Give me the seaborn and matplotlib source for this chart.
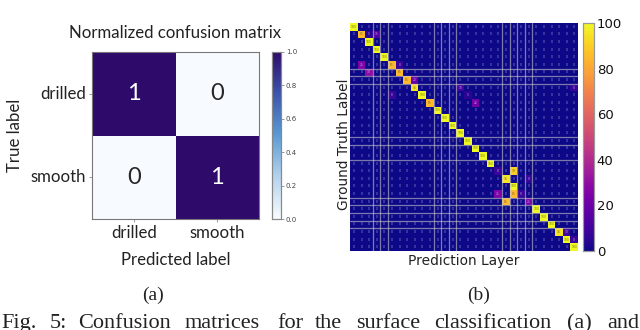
import numpy as np
import matplotlib
matplotlib.use("Agg")
import matplotlib.pyplot as plt
from matplotlib.colors import LinearSegmentedColormap
import seaborn as sns

W, H = 640, 330

# panel (a)
surface_labels = ["drilled", "smooth"]
surface_matrix = [[1, 0], [0, 1]]
surface_ticks = [0.0, 0.2, 0.4, 0.6, 0.8, 1.0]

# panel (b): 30 layers, diagonal and the visible off-diagonal cells
diag_values = [100, 85, 100, 100, 100, 85, 85, 85, 95, 100,
               85, 100, 100, 100, 100, 100, 100, 100, 100, 8,
               95, 100, 8, 25, 100, 100, 100, 95, 100, 100]
off_rows = [1, 1, 5, 5, 6, 7, 8, 8, 9, 9, 10, 19, 20, 22, 22, 23, 27, 28]
off_cols = [3, 2, 1, 6, 2, 8, 14, 29, 5, 15, 16, 21, 23, 19, 21, 20, 28, 29]
off_values = [15, 5, 25, 8, 30, 20, 10, 8, 8, 5, 22, 90, 8, 25, 85, 85, 10, 8]
grid_cols = [3, 4, 5, 11, 12, 13, 14, 20, 21, 22, 23, 24]
grid_rows = [6, 7, 8, 15, 16, 18, 23, 24, 25, 26, 27]
layer_ticks = [0, 20, 40, 60, 80, 100]

caption_words = ["Fig.", "5:", "Confusion", "matrices", "for", "the", "surface",
                 "classification", "(a)", "and"]
caption_x = [1, 50, 78, 185, 277, 315, 356, 434, 567, 607]

sns.set_theme(style="white")
plt.rcParams["font.family"] = ["DejaVu Sans"]


def box(x0, y0, x1, y1):
    # pixel box, y measured from the top
    return [x0 / W, 1 - y1 / H, (x1 - x0) / W, (y1 - y0) / H]


fig = plt.figure(figsize=(6.4, 3.3), dpi=100)

# ---- (a)
blues = LinearSegmentedColormap.from_list(
    "cm_blues", ["#f7fbff", "#b5d3ec", "#5b9bd5", "#3c55ad", "#2e0a6a"])
ax = fig.add_axes(box(92, 52, 259, 219))
cax = fig.add_axes(box(272, 52, 281, 219))
sns.heatmap(np.array(surface_matrix), ax=ax, cbar_ax=cax, cmap=blues, vmin=0, vmax=1,
            annot=True, fmt="d", annot_kws={"fontsize": 17, "family": "Lato"},
            xticklabels=surface_labels, yticklabels=surface_labels,
            cbar_kws={"ticks": surface_ticks})
ax.set_title("Normalized confusion matrix", fontsize=12.1, family="Lato", color="#222222", pad=10)
ax.set_xlabel("Predicted label", fontsize=12.1, family="Lato", color="#222222", labelpad=8)
ax.set_ylabel("True label", fontsize=12.1, family="Lato", color="#222222", labelpad=6)
ax.tick_params(axis="both", length=2, width=0.6, color="#888888", labelsize=12.1, pad=2, bottom=True, left=True)
for lab in ax.get_xticklabels() + ax.get_yticklabels():
    lab.set_family("Lato")
    lab.set_color("#222222")
ax.tick_params(axis="y", labelrotation=0)
for s in ax.spines.values():
    s.set_visible(True)
    s.set_color("#777777")
    s.set_linewidth(0.8)
cax.tick_params(length=2, width=0.6, color="#888888", labelsize=5, pad=1.5, labelcolor="#444444", right=True)
for s in cax.spines.values():
    s.set_visible(True)
    s.set_color("#888888")
    s.set_linewidth(0.8)

# ---- (b)
layers = np.zeros((len(diag_values), len(diag_values)))
layers[np.arange(len(diag_values)), np.arange(len(diag_values))] = diag_values
layers[off_rows, off_cols] = off_values

ax2 = fig.add_axes(box(350, 23, 578, 251))
cax2 = fig.add_axes(box(583, 23, 594, 251))
sns.heatmap(layers, ax=ax2, cbar_ax=cax2, cmap="plasma", vmin=0, vmax=100,
            annot=True, fmt=".0f", annot_kws={"fontsize": 2.2, "alpha": 0.6},
            xticklabels=False, yticklabels=False,
            cbar_kws={"ticks": layer_ticks})
for c in grid_cols:
    ax2.axvline(c, color="#c8c8c8", lw=0.9, alpha=0.6)
for r in grid_rows:
    ax2.axhline(r, color="#c8c8c8", lw=0.9, alpha=0.6)
ax2.set_xlabel("Prediction Layer", fontsize=9.9, color="#222222", labelpad=2)
ax2.set_ylabel("Ground Truth Label", fontsize=9.9, color="#222222", labelpad=-1, y=0.47)
cax2.tick_params(length=0, labelsize=9.5, pad=2, labelcolor="#111111")
for s in cax2.spines.values():
    s.set_visible(True)
    s.set_color("#999999")
    s.set_linewidth(0.8)

# ---- panel letters and caption
serif = "Liberation Serif"
fig.text(153 / W, 1 - 295 / H, "(a)", family=serif, fontsize=14, ha="center", va="center", color="#222222")
fig.text(479 / W, 1 - 295 / H, "(b)", family=serif, fontsize=14, ha="center", va="center", color="#222222")
for word, x in zip(caption_words, caption_x):
    fig.text(x / W, 1 - 328 / H, word, family=serif, fontsize=16, ha="left", va="baseline", color="#222222")

fig.savefig("out.png", dpi=100)
